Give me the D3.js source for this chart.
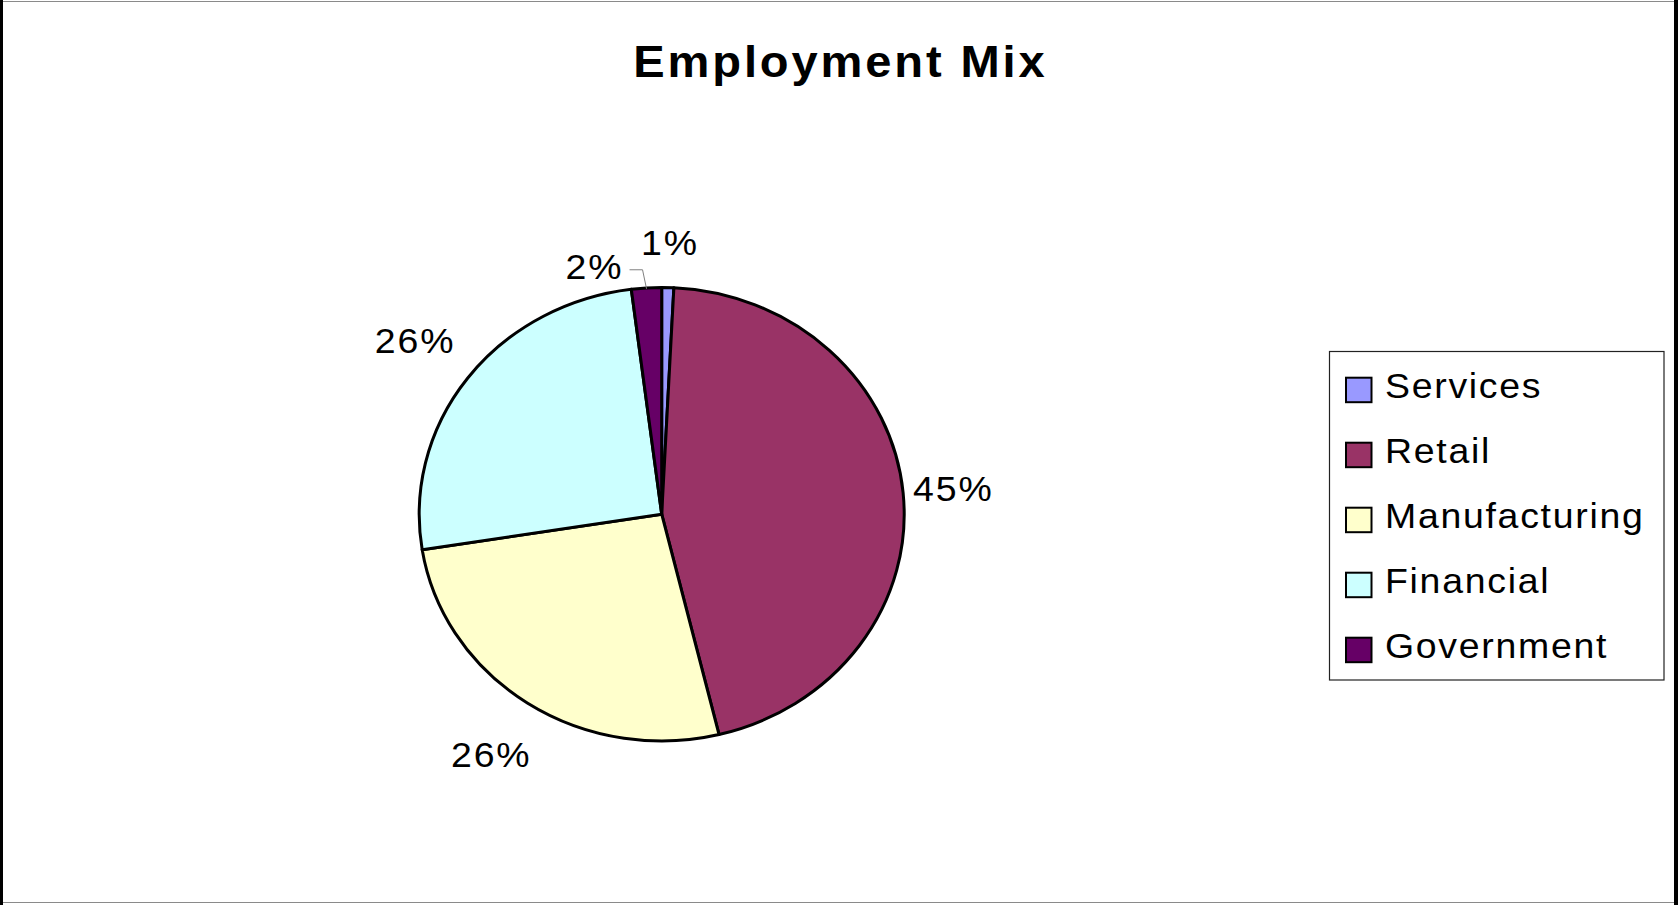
<!DOCTYPE html>
<html><head><meta charset="utf-8">
<script src="https://cdn.jsdelivr.net/npm/d3@7"></script>
<style>body{margin:0;background:#fff}svg{display:block}</style>
</head><body>
<svg id="chart" width="1678" height="905"></svg>
<script>
// ---- data ----
const title = "Employment Mix";
const categories = ["Services", "Retail", "Manufacturing", "Financial", "Government"];
const values = [0.8, 45.4, 26.3, 25.5, 2.0];
const colors = ["#9999FF", "#993366", "#FFFFCC", "#CCFFFF", "#660066"];

// ---- layout ----
const W = 1678, H = 905;
const FONT = "'Liberation Sans', Arial, Helvetica, sans-serif";
const SX = 1.07; // the reference is stretched horizontally
const svg = d3.select("#chart");

// frame
svg.append("rect").attr("x", 0).attr("y", 0).attr("width", W).attr("height", H).attr("fill", "#fff");
svg.append("line").attr("x1", 0).attr("x2", W).attr("y1", 1.5).attr("y2", 1.5).attr("stroke", "#8a8a8a").attr("stroke-width", 1);
svg.append("line").attr("x1", 0).attr("x2", W).attr("y1", 902.5).attr("y2", 902.5).attr("stroke", "#8a8a8a").attr("stroke-width", 1);
svg.append("rect").attr("x", 0).attr("y", 0).attr("width", 3).attr("height", H).attr("fill", "#000");
svg.append("rect").attr("x", 1674).attr("y", 0).attr("width", 4).attr("height", H).attr("fill", "#000");

function stretchedText(parent, x, y, anchor, ls) {
  return parent.append("text")
    .attr("transform", `translate(${x},${y}) scale(${SX},1)`)
    .attr("x", anchor === "middle" ? ls / 2 : 0)
    .attr("text-anchor", anchor)
    .attr("letter-spacing", ls);
}

// title
stretchedText(svg, 839, 77, "middle", 2.7)
  .attr("font-family", FONT).attr("font-weight", "bold").attr("font-size", 44)
  .attr("fill", "#000")
  .text(title);

// pie (elliptical, as in the reference)
const cx = 661.7, cy = 514.2, R = 242.5, RY = 226.8, sy = RY / R;
const total = d3.sum(values);
const arcs = d3.pie().sort(null).value(d => d)(values);
const arc = d3.arc().innerRadius(0).outerRadius(R);

const pg = svg.append("g").attr("transform", `translate(${cx},${cy}) scale(1,${sy})`);
pg.selectAll("path").data(arcs).join("path")
  .attr("d", arc)
  .attr("fill", (d, i) => colors[i])
  .attr("stroke", "#000")
  .attr("stroke-width", 3)
  .attr("stroke-linejoin", "round")
  .attr("vector-effect", "non-scaling-stroke");

// data labels (outside end)
const fmt = v => Math.round(v / total * 100) + "%";
const CAP = 12.5, LS = 1.8;
const labelR = a => R - 9 + 53.4 * Math.abs(Math.sin(a)) + 55.5 * Math.abs(Math.cos(a));
const lg = svg.append("g").attr("font-family", FONT).attr("font-size", 35).attr("fill", "#000");
const placed = [];
arcs.forEach((d, i) => {
  const mid = (d.startAngle + d.endAngle) / 2;
  const t = lg.append("text").attr("letter-spacing", LS).text(fmt(d.data));
  const w = t.node().getComputedTextLength() * SX;
  const rl = labelR(mid);
  let x = cx + rl * Math.sin(mid);
  let y = cy - rl * Math.cos(mid) * sy;
  const box = (x, y) => ({ l: x - w / 2, r: x + w / 2, t: y - CAP - 2, b: y + CAP + 2 });
  let b = box(x, y);
  const hit = placed.find(p => !(b.r < p.l || b.l > p.r || b.b < p.t || b.t > p.b));
  if (hit) {
    // move label aside and draw a leader line to the slice
    const px = cx + (R - 1) * Math.sin(mid), py = cy - (R - 1) * Math.cos(mid) * sy;
    const ex = px - 4, ey = py - 19;
    const hx = ex - 13;
    x = hx - 7 - w / 2;
    y = ey - 3;
    svg.append("path")
      .attr("d", d3.line()([[hx, ey], [ex, ey], [px, py]]))
      .attr("fill", "none").attr("stroke", "#808080").attr("stroke-width", 1);
    b = box(x, y);
  }
  placed.push(b);
  t.attr("transform", `translate(${x},${y + CAP}) scale(${SX},1)`)
   .attr("x", LS / 2).attr("text-anchor", "middle");
});

// legend
const legX = 1329.5, legY = 351.5, legW = 334.5, legH = 328.5;
const rowY = d3.scalePoint().domain(categories).range([377.7, 377.7 + 65 * 4]);
const leg = svg.append("g");
leg.append("rect").attr("x", legX).attr("y", legY).attr("width", legW).attr("height", legH)
  .attr("fill", "#fff").attr("stroke", "#222").attr("stroke-width", 1.2);
const rows = leg.selectAll("g.row").data(categories).join("g").attr("class", "row");
rows.append("rect")
  .attr("x", 1346).attr("y", d => rowY(d))
  .attr("width", 25.5).attr("height", 24.5)
  .attr("fill", (d, i) => colors[i])
  .attr("stroke", "#000").attr("stroke-width", 2);
rows.each(function (d) {
  stretchedText(d3.select(this), 1385, rowY(d) + 20.5, "start", 1.6)
    .attr("font-family", FONT).attr("font-size", 35)
    .attr("fill", "#000")
    .text(d);
});
</script>
</body></html>
